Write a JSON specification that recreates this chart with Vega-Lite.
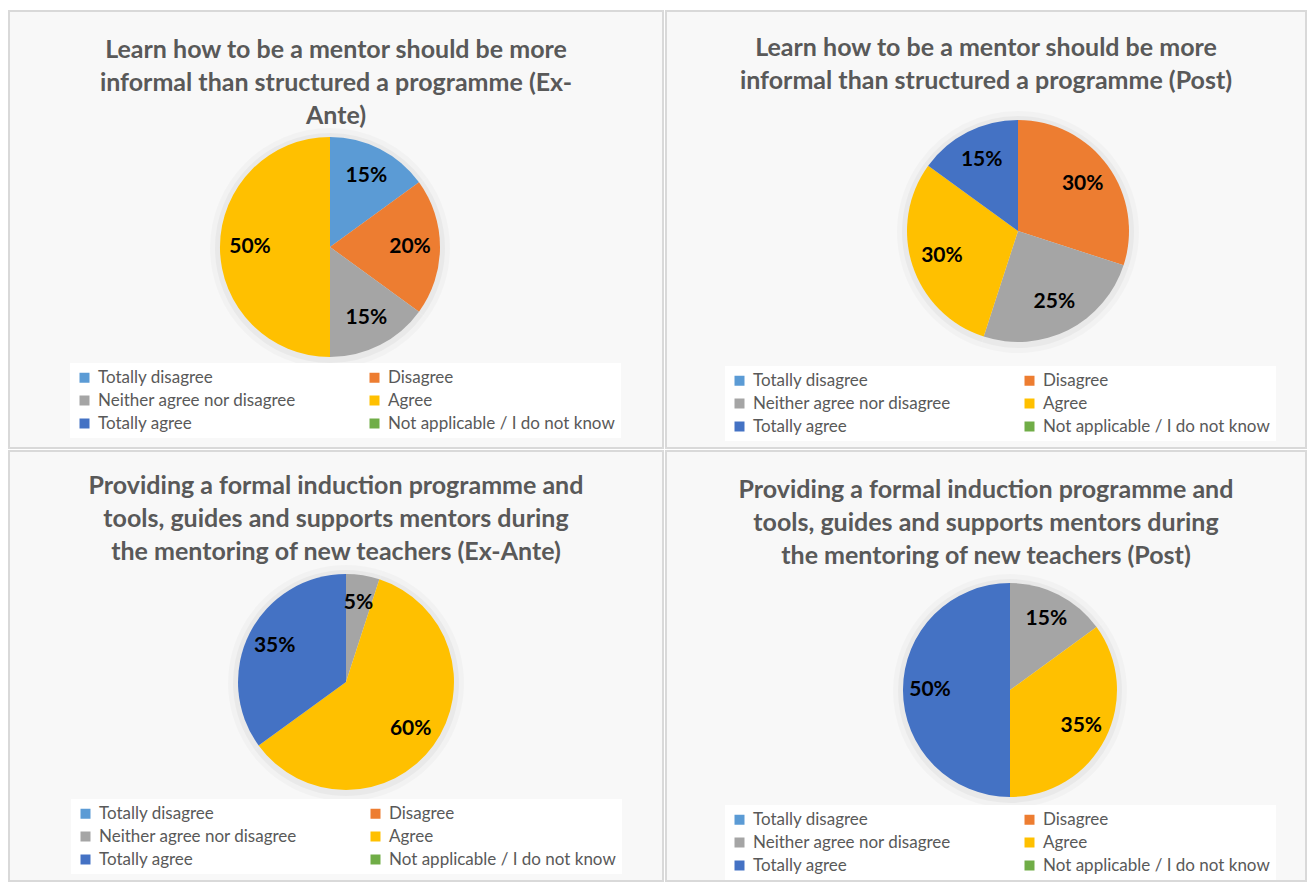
{
  "$schema": "https://vega.github.io/schema/vega-lite/v6.json",
  "background": "white",
  "padding": {"left": 8, "top": 10, "right": 0, "bottom": 0},
  "spacing": 1,
  "data": {"values": [
    {"chart": "A", "answer": "Totally disagree", "rank": 1, "pct": 0.15},
    {"chart": "A", "answer": "Disagree", "rank": 2, "pct": 0.20},
    {"chart": "A", "answer": "Neither agree nor disagree", "rank": 3, "pct": 0.15},
    {"chart": "A", "answer": "Agree", "rank": 4, "pct": 0.50},
    {"chart": "B", "answer": "Disagree", "rank": 2, "pct": 0.30},
    {"chart": "B", "answer": "Neither agree nor disagree", "rank": 3, "pct": 0.25},
    {"chart": "B", "answer": "Agree", "rank": 4, "pct": 0.30},
    {"chart": "B", "answer": "Totally agree", "rank": 5, "pct": 0.15},
    {"chart": "C", "answer": "Neither agree nor disagree", "rank": 3, "pct": 0.05},
    {"chart": "C", "answer": "Agree", "rank": 4, "pct": 0.60},
    {"chart": "C", "answer": "Totally agree", "rank": 5, "pct": 0.35},
    {"chart": "D", "answer": "Neither agree nor disagree", "rank": 3, "pct": 0.15},
    {"chart": "D", "answer": "Agree", "rank": 4, "pct": 0.35},
    {"chart": "D", "answer": "Totally agree", "rank": 5, "pct": 0.50}
  ]},
  "resolve": {"legend": {"color": "independent"}},
  "vconcat": [
    {
      "spacing": 1,
      "resolve": {"legend": {"color": "independent"}},
      "hconcat": [
        {
          "width": 654, "height": 437,
          "view": {"fill": "#f8f8f8", "stroke": "#d9d9d9", "strokeWidth": 2},
          "title": {"text": ["Learn how to be a mentor should be more", "informal than structured a programme  (Ex-", "Ante)"], "offset": -118},
          "transform": [{"filter": "datum.chart === 'A'"}],
          "encoding": {
            "theta": {"field": "pct", "type": "quantitative", "stack": true},
            "order": {"field": "rank", "type": "quantitative"}
          },
          "layer": [
            {"mark": {"type": "arc", "outerRadius": 120, "x": 321, "y": 237, "fill": "black", "opacity": 0.025}},
            {"mark": {"type": "arc", "outerRadius": 115, "x": 321, "y": 237, "fill": "black", "opacity": 0.035}},
            {"mark": {"type": "arc", "outerRadius": 110, "x": 321, "y": 236},
             "encoding": {"color": {"field": "answer", "type": "nominal",
              "scale": {"domain": ["Totally disagree", "Disagree", "Neither agree nor disagree", "Agree", "Totally agree", "Not applicable / I do not know"],
                        "range": ["#5B9BD5", "#ED7D31", "#A5A5A5", "#FFC000", "#4472C4", "#70AD47"]},
              "legend": {"orient": "none", "legendX": 61, "legendY": 352}}}},
            {"mark": {"type": "text", "radius": 80, "x": 321, "y": 236, "font": "Lato", "fontSize": 21, "fontWeight": "bold", "fill": "black"},
             "encoding": {"text": {"field": "pct", "type": "quantitative", "format": ".0%"}}}
          ]
        },
        {
          "width": 640, "height": 437,
          "view": {"fill": "#f8f8f8", "stroke": "#d9d9d9", "strokeWidth": 2},
          "title": {"text": ["Learn how to be a mentor should be more", "informal than structured a programme (Post)"], "offset": -83},
          "transform": [{"filter": "datum.chart === 'B'"}],
          "encoding": {
            "theta": {"field": "pct", "type": "quantitative", "stack": true},
            "order": {"field": "rank", "type": "quantitative"}
          },
          "layer": [
            {"mark": {"type": "arc", "outerRadius": 121, "x": 352, "y": 221, "fill": "black", "opacity": 0.025}},
            {"mark": {"type": "arc", "outerRadius": 116, "x": 352, "y": 221, "fill": "black", "opacity": 0.035}},
            {"mark": {"type": "arc", "outerRadius": 111, "x": 352, "y": 220},
             "encoding": {"color": {"field": "answer", "type": "nominal",
              "scale": {"domain": ["Totally disagree", "Disagree", "Neither agree nor disagree", "Agree", "Totally agree", "Not applicable / I do not know"],
                        "range": ["#5B9BD5", "#ED7D31", "#A5A5A5", "#FFC000", "#4472C4", "#70AD47"]},
              "legend": {"orient": "none", "legendX": 59, "legendY": 355}}}},
            {"mark": {"type": "text", "radius": 80, "x": 352, "y": 220, "font": "Lato", "fontSize": 21, "fontWeight": "bold", "fill": "black"},
             "encoding": {"text": {"field": "pct", "type": "quantitative", "format": ".0%"}}}
          ]
        }
      ]
    },
    {
      "spacing": 1,
      "resolve": {"legend": {"color": "independent"}},
      "hconcat": [
        {
          "width": 654, "height": 430,
          "view": {"fill": "#f8f8f8", "stroke": "#d9d9d9", "strokeWidth": 2},
          "title": {"text": ["Providing a formal induction programme and", "tools, guides and supports mentors during", "the mentoring of new teachers  (Ex-Ante)"], "offset": -114},
          "transform": [{"filter": "datum.chart === 'C'"}],
          "encoding": {
            "theta": {"field": "pct", "type": "quantitative", "stack": true},
            "order": {"field": "rank", "type": "quantitative"}
          },
          "layer": [
            {"mark": {"type": "arc", "outerRadius": 118, "x": 337, "y": 232, "fill": "black", "opacity": 0.025}},
            {"mark": {"type": "arc", "outerRadius": 113, "x": 337, "y": 232, "fill": "black", "opacity": 0.035}},
            {"mark": {"type": "arc", "outerRadius": 108, "x": 337, "y": 231},
             "encoding": {"color": {"field": "answer", "type": "nominal",
              "scale": {"domain": ["Totally disagree", "Disagree", "Neither agree nor disagree", "Agree", "Totally agree", "Not applicable / I do not know"],
                        "range": ["#5B9BD5", "#ED7D31", "#A5A5A5", "#FFC000", "#4472C4", "#70AD47"]},
              "legend": {"orient": "none", "legendX": 62, "legendY": 348}}}},
            {"mark": {"type": "text", "radius": 80, "x": 337, "y": 231, "font": "Lato", "fontSize": 21, "fontWeight": "bold", "fill": "black"},
             "encoding": {"text": {"field": "pct", "type": "quantitative", "format": ".0%"}}}
          ]
        },
        {
          "width": 640, "height": 430,
          "view": {"fill": "#f8f8f8", "stroke": "#d9d9d9", "strokeWidth": 2},
          "title": {"text": ["Providing a formal induction programme and", "tools, guides and supports mentors during", "the mentoring of new teachers (Post)"], "offset": -118},
          "transform": [{"filter": "datum.chart === 'D'"}],
          "encoding": {
            "theta": {"field": "pct", "type": "quantitative", "stack": true},
            "order": {"field": "rank", "type": "quantitative"}
          },
          "layer": [
            {"mark": {"type": "arc", "outerRadius": 117, "x": 344, "y": 240, "fill": "black", "opacity": 0.025}},
            {"mark": {"type": "arc", "outerRadius": 112, "x": 344, "y": 240, "fill": "black", "opacity": 0.035}},
            {"mark": {"type": "arc", "outerRadius": 107, "x": 344, "y": 239},
             "encoding": {"color": {"field": "answer", "type": "nominal",
              "scale": {"domain": ["Totally disagree", "Disagree", "Neither agree nor disagree", "Agree", "Totally agree", "Not applicable / I do not know"],
                        "range": ["#5B9BD5", "#ED7D31", "#A5A5A5", "#FFC000", "#4472C4", "#70AD47"]},
              "legend": {"orient": "none", "legendX": 59, "legendY": 354}}}},
            {"mark": {"type": "text", "radius": 80, "x": 344, "y": 239, "font": "Lato", "fontSize": 21, "fontWeight": "bold", "fill": "black"},
             "encoding": {"text": {"field": "pct", "type": "quantitative", "format": ".0%"}}}
          ]
        }
      ]
    }
  ],
  "config": {
    "view": {"fill": "#f8f8f8", "stroke": "#d9d9d9", "strokeWidth": 2},
    "title": {"font": "Lato", "fontSize": 25, "fontWeight": "bold", "color": "#595959", "lineHeight": 33, "anchor": "middle"},
    "legend": {
      "title": null, "direction": "horizontal",
      "symbolType": "square", "symbolSize": 100, "symbolStrokeWidth": 0,
      "labelFont": "Lato", "labelFontSize": 17, "labelColor": "#595959", "labelLimit": 340, "labelOffset": 5,
      "columns": 2, "columnPadding": 69, "rowPadding": 5,
      "fillColor": "white", "padding": 6
    }
  }
}
